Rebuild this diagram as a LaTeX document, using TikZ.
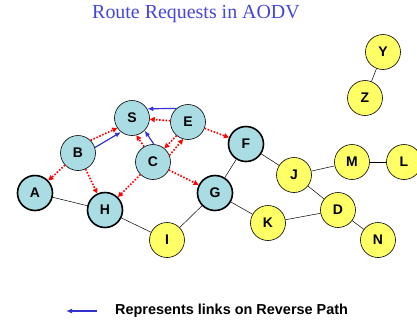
\documentclass[tikz,border=0pt]{standalone}
\usepackage{fontspec}
\setmainfont{Liberation Serif}
\setsansfont{Liberation Sans}
\usetikzlibrary{arrows.meta}
\definecolor{cyanbg}{HTML}{AADCE4}
\definecolor{yelbg}{HTML}{FFFF66}
\definecolor{reqred}{HTML}{FF0000}
\definecolor{revblue}{HTML}{3333CC}
\definecolor{titleblue}{HTML}{4646D8}
\tikzset{
  mnode/.style={circle,draw=black,line width=0.6pt,minimum size=35bp,
                inner sep=0pt,font=\sffamily\bfseries\fontsize{14}{14}\selectfont},
  cyannode/.style={mnode,fill=cyanbg},
  hotnode/.style={cyannode,line width=1.6pt},
  yelnode/.style={mnode,fill=yelbg},
  link/.style={line width=0.5pt},
  rreq/.style={-{Triangle[length=5bp,width=5bp]},reqred,line width=1.6bp,
               dash pattern=on 1.6bp off 1.6bp},
  rev/.style={-{Latex[length=6bp,width=5bp]},revblue,line width=1.2bp}
}

\begin{document}
\begin{tikzpicture}[x=1bp,y=-1bp]
  \useasboundingbox (0,0) rectangle (417,322);
  \node[font=\fontsize{20}{24}\selectfont,text=titleblue] (title) at (196,14) {Route Requests in AODV};
  % nodes
  \node[cyannode] (S) at (132,118) {S};
  \node[cyannode] (E) at (188,122) {E};
  \node[cyannode] (B) at (78,153) {B};
  \node[cyannode] (C) at (153,162) {C};
  \node[hotnode] (A) at (35,193) {A};
  \node[hotnode] (H) at (105,210) {H};
  \node[hotnode] (G) at (215,193) {G};
  \node[hotnode] (F) at (246,144) {F};
  \node[yelnode] (I) at (167,240) {I};
  \node[yelnode] (K) at (268,223) {K};
  \node[yelnode] (J) at (294,175) {J};
  \node[yelnode] (M) at (352,162) {M};
  \node[yelnode] (L) at (404,162) {L};
  \node[yelnode] (D) at (338,210) {D};
  \node[yelnode] (N) at (378,240) {N};
  \node[yelnode] (Y) at (383,52) {Y};
  \node[yelnode] (Z) at (365,98) {Z};
  % plain links
  \foreach \a/\b in {A/H,H/I,I/G,G/F,G/K,F/J,J/M,M/L,J/D,K/D,D/N,Y/Z}
    \draw[link] (\a) -- (\b);
  % route requests
  \draw[rreq] (E) -- (S);
  \draw[rreq] (B.45) -- (S.214);
  \draw[rreq] (C.120) -- (S.284);
  \draw[rreq] (E.230) -- (C.50);
  \draw[rreq] (C.22) -- (E.254);
  \draw[rreq] (E) -- (F);
  \draw[rreq] (B) -- (A);
  \draw[rreq] (B) -- (H);
  \draw[rreq] (C) -- (H);
  \draw[rreq] (C) -- (G);
  % reverse path
  \draw[rev] (E.130) -- (S.31);
  \draw[rev] (B.18) -- (S.232);
  \draw[rev] (C.87) -- (S.315);
  % legend
  \coordinate (legR) at (97,311);
  \coordinate (legL) at (66,311);
  \draw[rev] (legR) -- (legL);
  \node[anchor=west,inner sep=0pt,font=\sffamily\bfseries\fontsize{14.5}{16}\selectfont] (legtxt) at (115,311) {Represents links on Reverse Path};
\end{tikzpicture}
\end{document}
